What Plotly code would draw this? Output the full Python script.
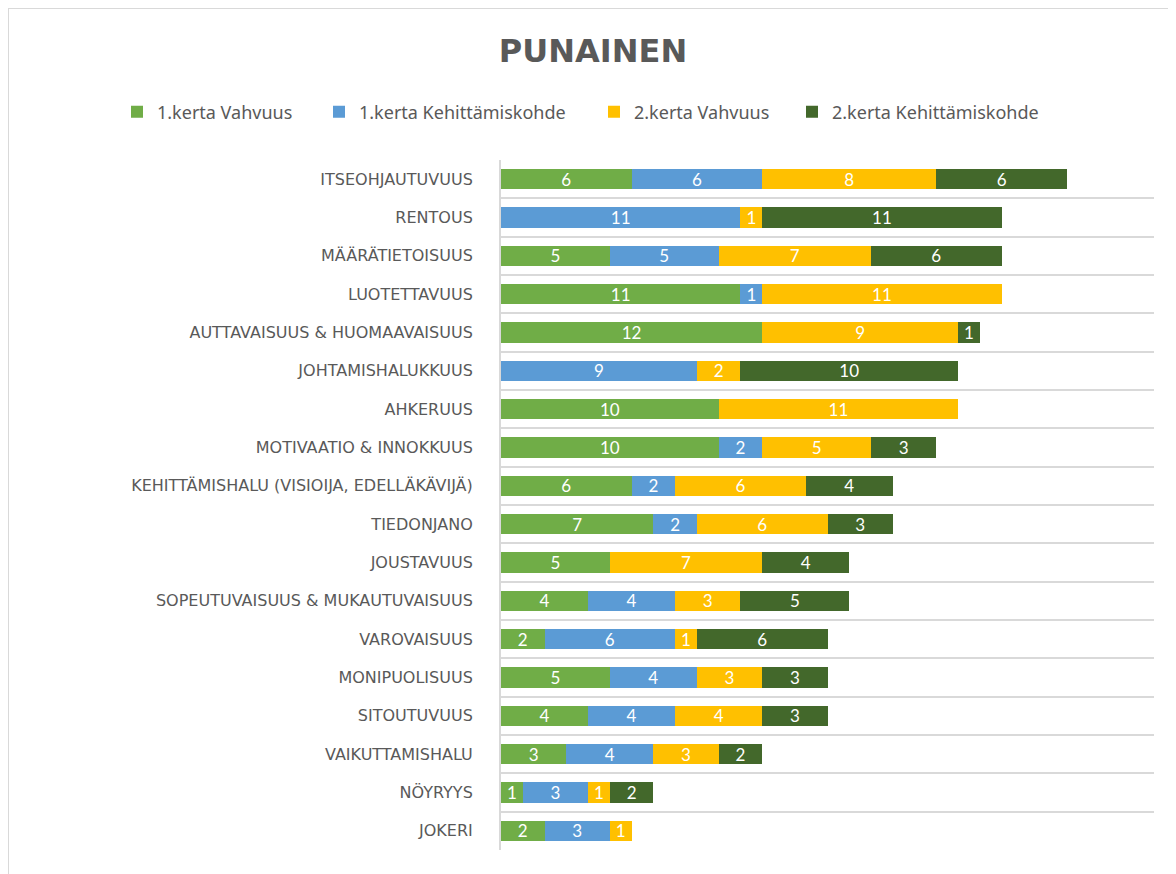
import plotly.graph_objects as go

categories = [
    "ITSEOHJAUTUVUUS",
    "RENTOUS",
    "MÄÄRÄTIETOISUUS",
    "LUOTETTAVUUS",
    "AUTTAVAISUUS & HUOMAAVAISUUS",
    "JOHTAMISHALUKKUUS",
    "AHKERUUS",
    "MOTIVAATIO & INNOKKUUS",
    "KEHITTÄMISHALU (VISIOIJA, EDELLÄKÄVIJÄ)",
    "TIEDONJANO",
    "JOUSTAVUUS",
    "SOPEUTUVAISUUS & MUKAUTUVAISUUS",
    "VAROVAISUUS",
    "MONIPUOLISUUS",
    "SITOUTUVUUS",
    "VAIKUTTAMISHALU",
    "NÖYRYYS",
    "JOKERI",
]

vahvuus_1 = [6, 0, 5, 11, 12, 0, 10, 10, 6, 7, 5, 4, 2, 5, 4, 3, 1, 2]
kehittamis_1 = [6, 11, 5, 1, 0, 9, 0, 2, 2, 2, 0, 4, 6, 4, 4, 4, 3, 3]
vahvuus_2 = [8, 1, 7, 11, 9, 2, 11, 5, 6, 6, 7, 3, 1, 3, 4, 3, 1, 1]
kehittamis_2 = [6, 11, 6, 0, 1, 10, 0, 3, 4, 3, 4, 5, 6, 3, 3, 2, 2, 0]

series = [
    ("1.kerta Vahvuus", vahvuus_1, "#70AD47"),
    ("1.kerta Kehittämiskohde", kehittamis_1, "#5B9BD5"),
    ("2.kerta Vahvuus", vahvuus_2, "#FFC000"),
    ("2.kerta Kehittämiskohde", kehittamis_2, "#43682B"),
]

text_grey = "#595959"
grid_grey = "#D9D9D9"

# page has an 8px body margin, so figure px = screen px - 8
off = 8
pl, pr, pt, pb = 501 - off, 1154 - off, 160 - off, 850 - off
W, H = 1176, 874

# screen x where each legend label starts (one legend per series so they spread like Excel's)
legend_text_x = [158, 360, 635, 833]

fig = go.Figure()
for i, (name, vals, color) in enumerate(series):
    fig.add_trace(go.Bar(
        name=name,
        y=categories,
        x=vals,
        orientation="h",
        marker=dict(color=color, line=dict(width=0)),
        text=[str(v) if v else "" for v in vals],
        textposition="inside",
        insidetextanchor="middle",
        textangle=0,
        textfont=dict(color="white", size=17, family="Lato"),
        hoverinfo="x+name",
        legend="legend" if i == 0 else f"legend{i + 1}",
        showlegend=True,
    ))


def px_x(v):
    return (v - pl) / (pr - pl)


def px_y(v):
    return (pb - v) / (pb - pt)


def make_legend(tx):
    return dict(
        orientation="h",
        xref="container",
        yref="container",
        x=(tx - 41 - off) / W,
        xanchor="left",
        y=1 - (112 - off) / H,
        yanchor="middle",
        font=dict(family="Noto Sans", size=18, color=text_grey),
        itemwidth=30,
        bgcolor="rgba(0,0,0,0)",
        visible=True,
    )


legends = {("legend" if i == 0 else f"legend{i + 1}"): make_legend(tx) for i, tx in enumerate(legend_text_x)}

fig.update_layout(
    width=W,
    height=H,
    barmode="stack",
    bargap=0.47,
    showlegend=True,
    plot_bgcolor="white",
    paper_bgcolor="white",
    margin=dict(l=pl, r=W - pr, t=pt, b=H - pb),
    uniformtext=dict(minsize=17, mode="show"),
    title=dict(
        text="<b>PUNAINEN</b>",
        font=dict(family="DejaVu Sans", size=32, color=text_grey),
        x=(593 - off) / W,
        xanchor="center",
        xref="container",
        y=1 - (51 - off) / H,
        yanchor="middle",
        yref="container",
    ),
    xaxis=dict(
        range=[0, 30],
        showgrid=False,
        zeroline=False,
        showticklabels=False,
        ticks="",
        fixedrange=True,
    ),
    yaxis=dict(
        autorange="reversed",
        tickson="boundaries",
        showgrid=True,
        gridcolor=grid_grey,
        gridwidth=2,
        showline=True,
        linecolor=grid_grey,
        linewidth=2,
        ticks="",
        ticklabelstandoff=23,
        tickfont=dict(family="DejaVu Sans", size=16, color=text_grey),
    ),
    shapes=[
        dict(
            type="rect",
            xref="paper",
            yref="paper",
            x0=px_x(8 - off),
            x1=px_x(W + 40),
            y0=px_y(H + 40),
            y1=px_y(8 - off),
            line=dict(color=grid_grey, width=2),
            fillcolor="rgba(0,0,0,0)",
            layer="below",
        )
    ],
    **legends,
)

fig.write_html("out.html")
